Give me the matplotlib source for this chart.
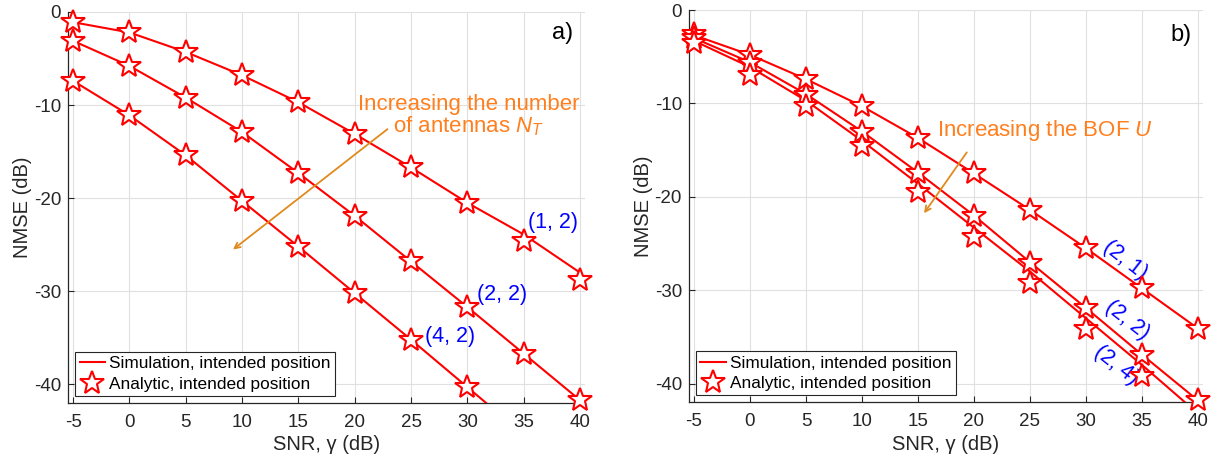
import numpy as np
import matplotlib
matplotlib.use("Agg")
from matplotlib import pyplot as plt
from matplotlib.lines import Line2D

plt.rcParams['font.family'] = ['Liberation Sans', 'DejaVu Sans']
plt.rcParams['mathtext.fontset'] = 'custom'
plt.rcParams['mathtext.it'] = 'Liberation Sans:italic'
plt.rcParams['mathtext.rm'] = 'Liberation Sans'
plt.rcParams['axes.unicode_minus'] = False

# SNR points (dB)
snr = [-5, 0, 5, 10, 15, 20, 25, 30, 35, 40]

# panel a) : (N_T, U) = (1,2), (2,2), (4,2)
sim_a_12 = [-1.1, -2.2, -4.3, -6.8, -9.7, -13.1, -16.7, -20.5, -23.9, -28.0]
ana_a_12 = [-1.1, -2.2, -4.3, -6.8, -9.7, -13.1, -16.7, -20.5, -24.6, -28.8]
sim_a_22 = [-3.1, -5.8, -9.2, -12.9, -17.3, -21.9, -26.8, -31.7, -36.7, -41.7]
ana_a_22 = [-3.1, -5.8, -9.2, -12.9, -17.3, -21.9, -26.8, -31.7, -36.7, -41.7]
sim_a_42 = [-7.4, -11.1, -15.4, -20.3, -25.2, -30.2, -35.2, -40.3, -45.4, -50.5]
ana_a_42 = [-7.4, -11.1, -15.4, -20.3, -25.2, -30.2, -35.2, -40.3, -45.4, -50.5]

# panel b) : (N_T, U) = (2,1), (2,2), (2,4)
sim_b_21 = [-2.7, -4.8, -7.4, -10.3, -13.7, -17.5, -21.4, -25.5, -29.8, -34.1]
ana_b_21 = [-2.6, -4.8, -7.4, -10.3, -13.7, -17.5, -21.4, -25.5, -29.8, -34.1]
sim_b_22 = [-3.0, -5.6, -9.0, -13.0, -17.4, -22.0, -27.0, -31.9, -36.9, -41.8]
ana_b_22 = [-3.0, -5.7, -9.1, -13.1, -17.4, -22.0, -27.1, -31.9, -36.9, -41.7]
sim_b_24 = [-3.3, -6.1, -9.7, -14.0, -18.6, -23.3, -28.0, -33.0, -38.0, -43.2]
ana_b_24 = [-3.5, -7.0, -10.3, -14.6, -19.5, -24.3, -29.2, -34.2, -39.2, -44.2]

labels_a = ['(1, 2)', '(2, 2)', '(4, 2)']
labels_b = ['(2, 1)', '(2, 2)', '(2, 4)']

red = '#ff0000'
orange_txt = '#ff7f1e'
orange_arr = '#e08a1e'
blue = '#0000ff'
dark = '#262626'

fig = plt.figure(figsize=(12.17, 4.59), dpi=100)
ax1 = fig.add_axes([0.0559, 0.1220, 0.4249, 0.8519])
ax2 = fig.add_axes([0.5661, 0.1235, 0.4224, 0.8547])


def setup(ax):
    ax.set_xlim(-5.45, 40.45)
    ax.set_ylim(-42, 0)
    ax.set_xticks(snr)
    ax.set_yticks([-40, -30, -20, -10, 0])
    ax.grid(True, color='#e0e0e0', linewidth=0.8)
    ax.set_axisbelow(True)
    for s in ['top', 'right']:
        ax.spines[s].set_visible(False)
    for s in ['left', 'bottom']:
        ax.spines[s].set_color(dark)
        ax.spines[s].set_linewidth(0.9)
    ax.tick_params(direction='in', length=4, width=0.8, colors=dark,
                   labelsize=13.5)
    ax.tick_params(axis='y', pad=5)
    ax.tick_params(axis='x', pad=8)
    ax.set_xlabel('SNR, \u03b3 (dB)', fontsize=14.5, color=dark, labelpad=3)
    ax.set_ylabel('NMSE (dB)', fontsize=14.5, color=dark, labelpad=1)


def draw(ax, sim, ana):
    ax.plot(snr, sim, color=red, linewidth=1.5, zorder=3)
    x = np.array(snr)
    y = np.array(ana)
    keep = y >= -42.5
    ax.plot(x[keep], y[keep], linestyle='none', marker='*', markersize=18,
            markerfacecolor='white', markeredgecolor=red, markeredgewidth=1.5,
            zorder=4, clip_on=False)


def legend(ax):
    h = [Line2D([], [], color=red, linewidth=1.5),
         Line2D([], [], linestyle='none', marker='*', markersize=18,
                markerfacecolor='white', markeredgecolor=red, markeredgewidth=1.5)]
    lg = ax.legend(h, ['Simulation, intended position', 'Analytic, intended position'],
                   loc='lower left', bbox_to_anchor=(0.014, 0.018), fontsize=12.4,
                   frameon=True, fancybox=False, framealpha=1, borderpad=0.25,
                   handlelength=1.5, handletextpad=0.2, labelspacing=0.3,
                   borderaxespad=0)
    lg.get_frame().set_edgecolor(dark)
    lg.get_frame().set_linewidth(0.8)


setup(ax1)
for sim, ana in [(sim_a_12, ana_a_12), (sim_a_22, ana_a_22), (sim_a_42, ana_a_42)]:
    draw(ax1, sim, ana)
legend(ax1)
ax1.text(39.4, -2.3, 'a)', fontsize=17, ha='right', va='center', color='black')
ax1.text(30.1, -11.2, 'Increasing the number\nof antennas $N_T$', fontsize=16,
         color=orange_txt, ha='center', va='center', linespacing=0.95)
ax1.annotate('', xy=(9.0, -25.7), xytext=(23.1, -12.4),
             arrowprops=dict(arrowstyle='->', color=orange_arr, lw=1.3))
ax1.text(37.6, -22.6, labels_a[0], fontsize=15.5, color=blue, ha='center', va='center')
ax1.text(33.1, -30.3, labels_a[1], fontsize=15.5, color=blue, ha='center', va='center')
ax1.text(28.5, -34.9, labels_a[2], fontsize=15.5, color=blue, ha='center', va='center')

setup(ax2)
for sim, ana in [(sim_b_21, ana_b_21), (sim_b_22, ana_b_22), (sim_b_24, ana_b_24)]:
    draw(ax2, sim, ana)
legend(ax2)
ax2.text(39.4, -2.7, 'b)', fontsize=17, ha='right', va='center', color='black')
ax2.text(26.3, -12.9, 'Increasing the BOF $U$', fontsize=16,
         color=orange_txt, ha='center', va='center')
ax2.annotate('', xy=(15.4, -22.0), xytext=(19.5, -15.0),
             arrowprops=dict(arrowstyle='->', color=orange_arr, lw=1.3))
ax2.text(33.5, -26.8, labels_b[0], fontsize=15.5, color=blue, ha='center', va='center',
         rotation=-38)
ax2.text(33.7, -33.2, labels_b[1], fontsize=15.5, color=blue, ha='center', va='center',
         rotation=-38)
ax2.text(32.7, -38.0, labels_b[2], fontsize=15.5, color=blue, ha='center', va='center',
         rotation=-38)

fig.savefig('out.png', dpi=100)
